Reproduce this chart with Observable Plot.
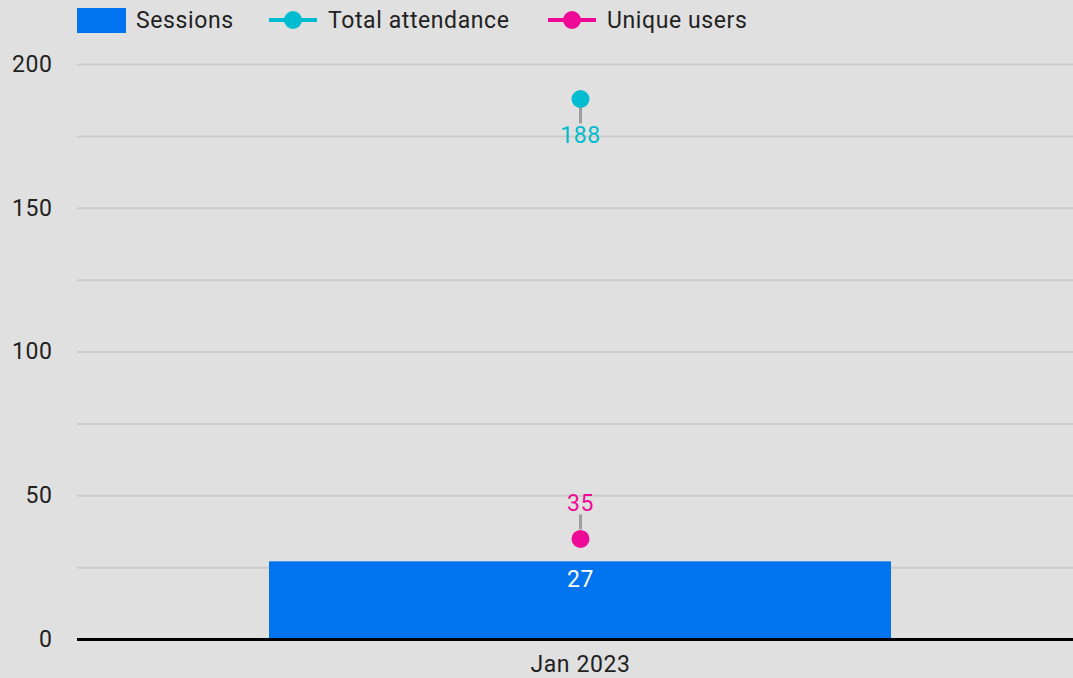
<!DOCTYPE html>
<html>
<head>
<meta charset="utf-8">
<script src="https://cdn.jsdelivr.net/npm/d3@7"></script>
<script src="https://cdn.jsdelivr.net/npm/@observablehq/plot@0.6"></script>
<style>
  html, body { margin: 0; padding: 0; background: #e0e0e0; }
  body { width: 1073px; height: 678px; overflow: hidden; font-family: Roboto, sans-serif; }
  #legend { position: relative; height: 40px; font-size: 23px; letter-spacing: 0.6px; color: #222; }
  .item { position: absolute; top: 0; height: 40px; display: flex; align-items: center; }
  .sw { width: 49px; height: 25px; margin-right: 10px; }
  .ln { position: relative; width: 48px; height: 25px; margin-right: 11px; }
  .ln .bar { position: absolute; left: 0; right: 0; top: 10.5px; height: 4px; }
  .ln .dot { position: absolute; left: 15px; top: 3.5px; width: 18px; height: 18px; border-radius: 50%; }
  #chart svg { display: block; }
  #chart svg text { letter-spacing: 0.6px; }
</style>
</head>
<body>
<div id="legend"></div>
<div id="chart"></div>
<script>
const months = ["Jan 2023"];
const sessions = [27];
const totalAttendance = [188];
const uniqueUsers = [35];
const gridTicks = [0, 25, 50, 75, 100, 125, 150, 175, 200];
const axisTicks = [0, 50, 100, 150, 200];

const colors = { sessions: "#0073ee", total: "#00bcd0", unique: "#ee0a96" };

const rows = months.map((m, i) => ({ month: m, sessions: sessions[i], total: totalAttendance[i], unique: uniqueUsers[i] }));

// legend
const legend = document.getElementById("legend");
legend.innerHTML = `
  <div class="item" style="left:77px"><div class="sw" style="background:${colors.sessions}"></div><span>Sessions</span></div>
  <div class="item" style="left:269px"><div class="ln"><div class="bar" style="background:${colors.total}"></div><div class="dot" style="background:${colors.total}"></div></div><span>Total attendance</span></div>
  <div class="item" style="left:548px"><div class="ln"><div class="bar" style="background:${colors.unique}"></div><div class="dot" style="background:${colors.unique}"></div></div><span>Unique users</span></div>
`;

const plot = Plot.plot({
  width: 1073,
  height: 638,
  marginLeft: 77,
  marginRight: -11,
  marginTop: 24,
  marginBottom: 39,
  style: { background: "#e0e0e0", fontFamily: "Roboto, sans-serif", fontSize: "23px", color: "#222" },
  x: { domain: months, padding: 0.2356, label: null },
  y: { domain: [0, 200], label: null },
  marks: [
    Plot.gridY(gridTicks, { stroke: "#cccccc", strokeOpacity: 1, strokeWidth: 2 }),
    Plot.axisY(axisTicks, { tickSize: 0, tickPadding: 25, fontSize: 23, fill: "#222", label: null }),
    Plot.axisX({ tickSize: 0, tickPadding: 16, fontSize: 23, fill: "#222", label: null }),
    Plot.barY(rows, { x: "month", y: "sessions", fill: colors.sessions }),
    Plot.ruleY([0], { stroke: "#000", strokeWidth: 3 }),
    Plot.ruleX(rows, { x: "month", y1: "total", y2: "total", stroke: "#9e9e9e", strokeWidth: 3, insetTop: 9, insetBottom: -25 }),
    Plot.ruleX(rows, { x: "month", y1: "unique", y2: "unique", stroke: "#9e9e9e", strokeWidth: 3, insetTop: -24, insetBottom: 9 }),
    Plot.dot(rows, { x: "month", y: "total", r: 9, fill: colors.total, stroke: null }),
    Plot.dot(rows, { x: "month", y: "unique", r: 9, fill: colors.unique, stroke: null }),
    Plot.text(rows, { x: "month", y: "total", text: d => String(d.total), dy: 37, fill: colors.total, fontSize: 23 }),
    Plot.text(rows, { x: "month", y: "unique", text: d => String(d.unique), dy: -35, fill: colors.unique, fontSize: 23 }),
    Plot.text(rows, { x: "month", y: "sessions", text: d => String(d.sessions), dy: 18, fill: "#fff", fontSize: 23 })
  ]
});
document.getElementById("chart").appendChild(plot);
</script>
</body>
</html>
